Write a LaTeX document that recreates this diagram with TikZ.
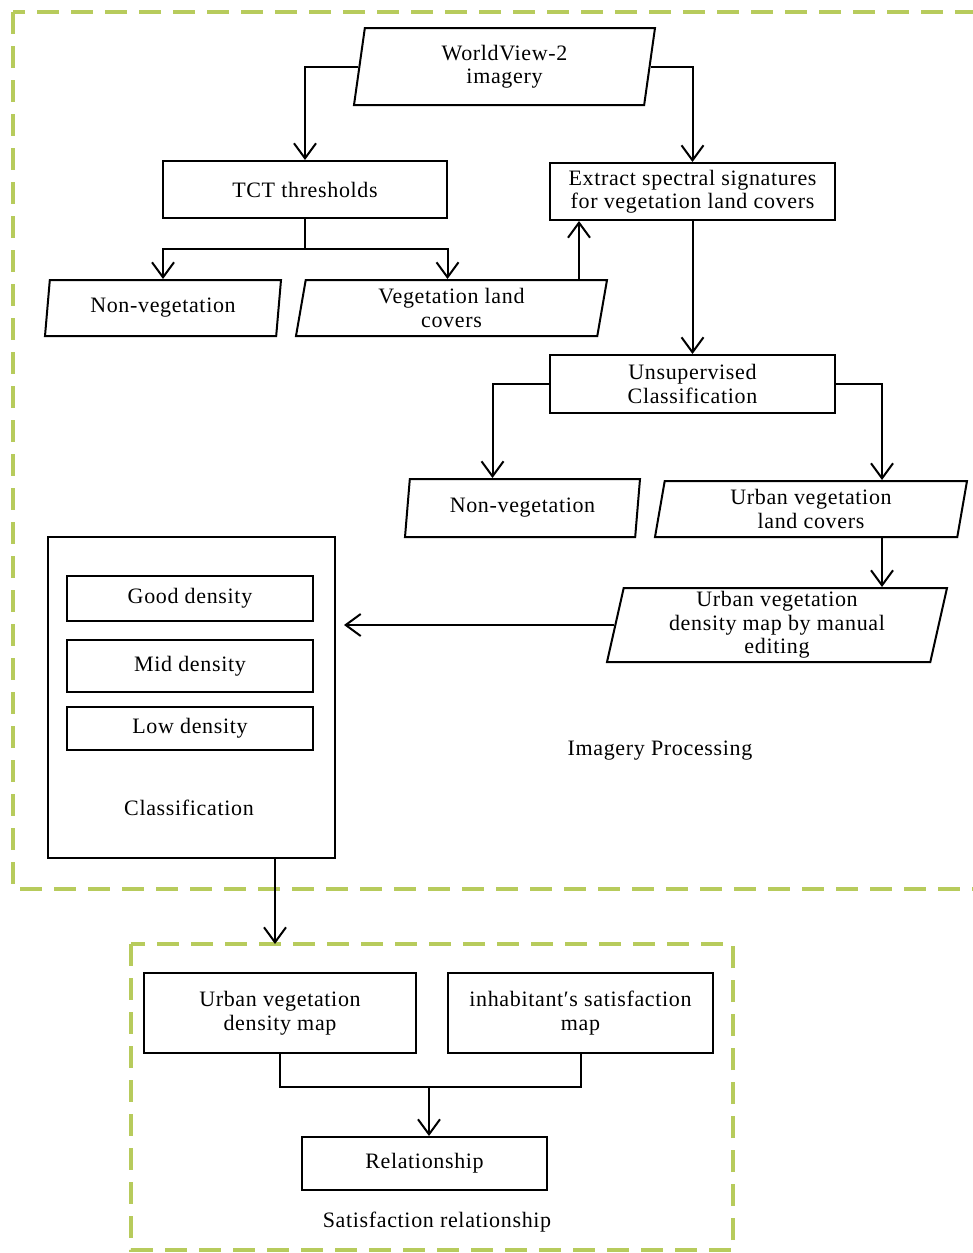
\documentclass[tikz,border=0pt]{standalone}
\usepackage{fontspec}
\setmainfont{Liberation Serif}[LetterSpace=3.0]
\usetikzlibrary{arrows.meta,shapes.geometric}
\definecolor{zonegreen}{RGB}{183,203,92}

\begin{document}
\begin{tikzpicture}[
        x=1pt, y=-1pt,
        every node/.style={font=\fontsize{22}{23.5}\selectfont},
        box/.style={draw, line width=2pt, fill=white, align=center, inner sep=0pt},
        slanted/.style={trapezium, trapezium left angle=76, trapezium right angle=104,
            trapezium stretches body, draw, line width=2pt, fill=white, align=center, inner sep=0pt},
        arr/.style={line width=2pt, -{Straight Barb[length=15pt,width=22pt,line width=2pt]}},
        line/.style={line width=2pt},
        zone/.style={draw=zonegreen, line width=4pt, dash pattern=on 22pt off 12pt}
    ]
	\useasboundingbox (0,0) rectangle (973,1253);
	\draw[zone] (13,12) rectangle (995,889);
	\draw[zone] (131,944) rectangle (733,1250);

	\node[slanted, minimum width=301pt, minimum height=77pt] (wv) at (504.5,66.5) {WorldView-2\\imagery};
	\node[box, minimum width=284pt, minimum height=57pt] (tct) at (305,189.5) {TCT thresholds};
	\node[box, minimum width=285pt, minimum height=57pt] (extract) at (692.5,191.5) {Extract spectral signatures\\for vegetation land covers};
	\node[slanted, minimum width=236pt, minimum height=56pt] (nonveg) at (163,308) {Non-vegetation};
	\node[slanted, minimum width=311pt, minimum height=56pt] (veg) at (451.5,308) {Vegetation land\\covers};
	\node[box, minimum width=285pt, minimum height=58pt] (unsup) at (692.5,384) {Unsupervised\\Classification};
	\node[slanted, minimum width=235pt, minimum height=58pt] (nonvegb) at (522.5,508) {Non-vegetation};
	\node[slanted, minimum width=312pt, minimum height=56pt] (urbveg) at (811,509) {Urban vegetation\\land covers};
	\node[slanted, minimum width=340pt, minimum height=74pt] (densmap) at (777,625) {Urban vegetation\\density map by manual\\editing};

	\node[box, minimum width=287pt, minimum height=321pt] (cls) at (191.5,697.5) {};
	\foreach \name/\txt/\y/\h in {good/Good density/598.5/45, mid/Mid density/666/52, low/Low density/728.5/43}
		{
		  \node[box, minimum width=246pt, minimum height=\h pt] (\name) at (190,\y) {\txt};
		};
	\node (clslabel) at (189,808) {Classification};
	\node (imgproc) at (660,751) {Imagery Processing};

	\node[box, minimum width=272pt, minimum height=80pt] (uvdmap) at (280,1013) {Urban vegetation\\density map};
	\node[box, minimum width=265pt, minimum height=80pt] (satmap) at (580.5,1013) {inhabitant′s satisfaction\\map};
	\node[box, minimum width=245pt, minimum height=53pt] (rel) at (424.5,1163.5) {Relationship};
	\node (satrel) at (437,1222) {Satisfaction relationship};

	\coordinate (split) at (305,249);
	\coordinate (up) at ([xshift=30pt]extract.south west);
	\coordinate (down) at ([xshift=71pt]urbveg.south);
	\coordinate (zonetop) at (275,944);
	\coordinate (join) at (429,1087);

	\draw[arr] (wv.west) -| (tct.north);
	\draw[arr] (wv.east) -| (extract.north);
	\draw[line] (tct.south) -- (split);
	\draw[arr] (split) -| (nonveg.north);
	\draw[arr] (split) -| ([xshift=-4pt]veg.north);
	\draw[arr] (up |- veg.north) -- (up);
	\draw[arr] (extract.south) -- (unsup.north);
	\draw[arr] (unsup.west) -| ([xshift=-30pt]nonvegb.north);
	\draw[arr] (unsup.east) -| ([xshift=71pt]urbveg.north);
	\draw[arr] (down) -- (down |- densmap.north);
	\draw[arr] (densmap.west) -- ([xshift=8pt]cls.east |- densmap.west);
	\draw[arr] (zonetop |- cls.south) -- (zonetop);
	\draw[line] (uvdmap.south) |- (join) -| (satmap.south);
	\draw[arr] (join) -- (join |- rel.north);
\end{tikzpicture}
\end{document}
